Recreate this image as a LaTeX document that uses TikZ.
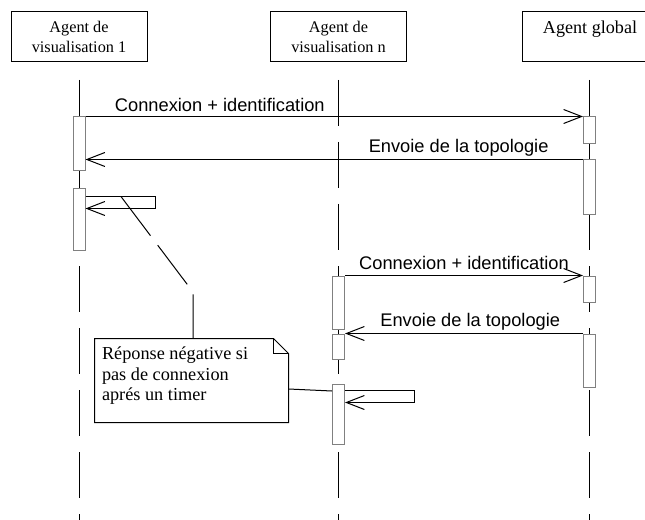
\documentclass[tikz,border=0pt]{standalone}
\usepackage{fontspec}
\setmainfont{Liberation Serif}
\newfontfamily\arialfont{Liberation Sans}
\usetikzlibrary{arrows.meta}
\tikzset{
  actor/.style={draw, minimum width=102pt, minimum height=37.5pt, inner sep=0, align=center, font=\fontsize{12.2}{15}\selectfont},
  activ/.style={draw=gray, fill=white, minimum width=9pt, inner sep=0},
  lifeline/.style={dash pattern=on 34.5pt off 12pt},
  msg/.style={-{Straight Barb[length=13.5pt,width=10.5pt]}},
  msglabel/.style={font=\arialfont\fontsize{13.7}{16}\selectfont, inner sep=0, anchor=base},
  notebox/.style={minimum width=144.75pt, minimum height=62.25pt, inner sep=0},
  notetext/.style={align=left, inner sep=0, font=\fontsize{13.7}{15.4}\selectfont},
  notelink/.style={dash pattern=on 36.75pt off 9pt}
}
\begin{document}
\begin{tikzpicture}[x=0.75pt, y=-0.75pt, line width=0.75pt]
\useasboundingbox (0,0) rectangle (645,520);
\clip (0,0) rectangle (645,520);
% agents
\node[actor] (av1) at (79,37) {Agent de\\visualisation 1};
\node[actor] (avn) at (338.5,37) {Agent de\\visualisation n};
\node[actor, font=\fontsize{13.6}{15}\selectfont] (ag) at (590,37) {Agent global\\\mbox{}};
% lifelines
\draw[lifeline] (av1.south |- 0,80) -- ++(0,445);
\draw[lifeline] (avn.south |- 0,80) -- ++(0,445);
\draw[lifeline] ([xshift=-0.375pt]ag.south |- 0,80) -- ++(0,445);
% activations
\node[activ, minimum height=40.5pt] (a1) at (av1 |- 0,144) {};
\node[activ, minimum height=45.75pt] (a2) at (av1 |- 0,219.5) {};
\node[activ, minimum height=20.25pt] (g1) at ([xshift=-0.375pt]ag |- 0,130.5) {};
\node[activ, minimum height=41.25pt] (g2) at ([xshift=-0.375pt]ag |- 0,187.5) {};
\node[activ, minimum height=39.75pt] (n1) at (avn |- 0,302.5) {};
\node[activ, minimum height=18.75pt] (n2) at (avn |- 0,346.5) {};
\node[activ, minimum height=45pt] (n3) at (avn |- 0,414) {};
\node[activ, minimum height=19.5pt] (g3) at ([xshift=-0.375pt]ag |- 0,289) {};
\node[activ, minimum height=39.75pt] (g4) at ([xshift=-0.375pt]ag |- 0,360.5) {};
% messages
\draw[msg] (a1.north east) -- node[msglabel, pos=0.27, yshift=3.75pt] {Connexion + identification} (g1.north west);
\draw[msg] (g2.north west) -- node[msglabel, pos=0.25, yshift=5.25pt] {Envoie de la topologie} (a1.east |- g2.north west);
\draw[msg] ([yshift=-6pt]a2.north east) -- coordinate[pos=0.51] (sa) ++(69.5,0) -- ++(0,12) -- ([yshift=-15pt]a2.north east);
\draw[msg] (n1.north east) -- node[msglabel, midway, yshift=4.5pt] {Connexion + identification} (g3.north west);
\draw[msg] (g4.north west) -- node[msglabel, pos=0.474, yshift=5.25pt] {Envoie de la topologie} (n2.north east);
\draw[msg] ([yshift=-5.25pt]n3.north east) -- ++(69,0) -- ++(0,12) -- ([yshift=-14.25pt]n3.north east);
% note
\node[notebox] (note) at (191.5,380.5) {};
\draw (note.north west) -- ([xshift=-11.25pt]note.north east) -- ([yshift=-11.25pt]note.north east) -- (note.south east) -- (note.south west) -- cycle;
\draw ([xshift=-11.25pt]note.north east) |- ([yshift=-11.25pt]note.north east);
\node[notetext, anchor=north west] (notetxt) at ([xshift=5.25pt, yshift=-6pt]note.north west) {Réponse négative si\\pas de connexion\\aprés un timer};
\coordinate (bend) at (193,292);
\draw[notelink] (sa) -- (bend) -- (bend |- note.north);
\draw (note.east |- 0,389) -- (n3.west |- 0,391);
\end{tikzpicture}
\end{document}
